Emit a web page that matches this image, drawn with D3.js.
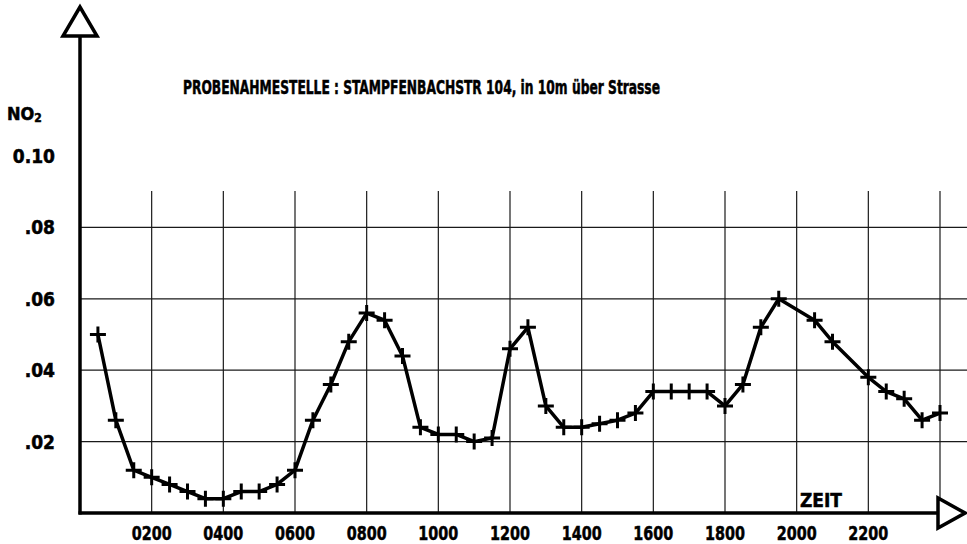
<!DOCTYPE html>
<html>
<head>
<meta charset="utf-8">
<script src="https://cdn.jsdelivr.net/npm/d3@7"></script>
<style>
  html, body { margin: 0; padding: 0; background: #fff; }
  svg { display: block; }
  text { font-family: "DejaVu Sans Condensed", "DejaVu Sans", sans-serif; font-weight: bold; fill: #000; stroke: #000; stroke-width: 0.5; }
</style>
</head>
<body>
<svg id="chart" width="967" height="544"></svg>
<script>
// ---- data ----
const hours = [0.5, 1, 1.5, 2, 2.5, 3, 3.5, 4, 4.5, 5, 5.5, 6, 6.5, 7, 7.5, 8, 8.5, 9, 9.5, 10,
  10.5, 11, 11.5, 12, 12.5, 13, 13.5, 14, 14.5, 15, 15.5, 16, 16.5, 17, 17.5, 18, 18.5, 19, 19.5,
  20.5, 21, 22, 22.5, 23, 23.5, 24];
const no2 = [0.050, 0.026, 0.012, 0.010, 0.008, 0.006, 0.004, 0.004, 0.006, 0.006, 0.008, 0.012,
  0.026, 0.036, 0.048, 0.056, 0.054, 0.044, 0.024, 0.022, 0.022, 0.020, 0.021, 0.046, 0.052,
  0.030, 0.024, 0.024, 0.025, 0.026, 0.028, 0.034, 0.034, 0.034, 0.034, 0.030, 0.036, 0.052,
  0.060, 0.054, 0.048, 0.038, 0.034, 0.032, 0.026, 0.028];
const xGridHours = [2, 4, 6, 8, 10, 12, 14, 16, 18, 20, 22, 24];
const xTickHours = [2, 4, 6, 8, 10, 12, 14, 16, 18, 20, 22];
const xTickLabels = ["0200", "0400", "0600", "0800", "1000", "1200", "1400", "1600", "1800", "2000", "2200"];
const yGridValues = [0.02, 0.04, 0.06, 0.08];
const yTickValues = [0.02, 0.04, 0.06, 0.08, 0.10];
const yTickLabels = [".02", ".04", ".06", ".08", "0.10"];
const titleText = "PROBENAHMESTELLE : STAMPFENBACHSTR 104, in 10m über Strasse";
const yAxisTitle = "NO";
const yAxisTitleSub = "2";
const xAxisTitle = "ZEIT";

// ---- layout ----
const svg = d3.select("#chart");
const x = d3.scaleLinear().domain([0, 24]).range([80, 940]);
const y = d3.scaleLinear().domain([0, 0.10]).range([513, 156]);
const gridTop = 191;
const ink = "#000";

// gridlines
svg.append("g").selectAll("line.h").data(yGridValues).join("line")
  .attr("x1", x(0)).attr("x2", 967)
  .attr("y1", d => y(d)).attr("y2", d => y(d))
  .attr("stroke", "#1a1a1a").attr("stroke-width", 1.2);
svg.append("g").selectAll("line.v").data(xGridHours).join("line")
  .attr("x1", d => x(d)).attr("x2", d => x(d))
  .attr("y1", gridTop).attr("y2", y(0))
  .attr("stroke", "#1a1a1a").attr("stroke-width", 1.2);

// axes
svg.append("line").attr("x1", x(0)).attr("x2", x(0)).attr("y1", 36).attr("y2", y(0) + 1.5)
  .attr("stroke", ink).attr("stroke-width", 3.5);
svg.append("line").attr("x1", x(0) - 1.5).attr("x2", 938).attr("y1", y(0)).attr("y2", y(0))
  .attr("stroke", ink).attr("stroke-width", 3.5);
svg.append("path").attr("d", "M80,7 L63,36 L97,36 Z")
  .attr("fill", "#fff").attr("stroke", ink).attr("stroke-width", 3.5).attr("stroke-linejoin", "miter");
svg.append("path").attr("d", "M938,498 L938,528 L965,513 Z")
  .attr("fill", "#fff").attr("stroke", ink).attr("stroke-width", 3.5).attr("stroke-linejoin", "miter");

// tick labels
svg.append("g").selectAll("text").data(xTickHours).join("text")
  .attr("x", d => x(d)).attr("y", 540)
  .attr("text-anchor", "middle")
  .attr("font-size", 20)
  .attr("textLength", 40).attr("lengthAdjust", "spacingAndGlyphs")
  .text((d, i) => xTickLabels[i]);
svg.append("g").selectAll("text").data(yTickValues).join("text")
  .attr("x", 55).attr("y", d => y(d) + 7)
  .attr("text-anchor", "end")
  .attr("font-size", 19)
  .text((d, i) => yTickLabels[i]);

// axis titles
const nt = svg.append("text").attr("x", 7).attr("y", 120).attr("font-size", 18);
nt.append("tspan").text(yAxisTitle);
nt.append("tspan").attr("font-size", 12).attr("dy", 2).text(yAxisTitleSub);
svg.append("text").attr("x", 800).attr("y", 507).attr("font-size", 20)
  .attr("textLength", 42).attr("lengthAdjust", "spacingAndGlyphs").text(xAxisTitle);

// title
svg.append("text").attr("x", 183).attr("y", 94).attr("font-size", 19)
  .attr("textLength", 477).attr("lengthAdjust", "spacingAndGlyphs").text(titleText);

// data line
const pts = hours.map((h, i) => [h, no2[i]]);
svg.append("path").datum(pts)
  .attr("d", d3.line().x(d => x(d[0])).y(d => y(d[1])))
  .attr("fill", "none").attr("stroke", ink).attr("stroke-width", 3.5)
  .attr("stroke-linejoin", "round");

// cross markers
svg.append("g").selectAll("path").data(pts).join("path")
  .attr("transform", d => `translate(${x(d[0])},${y(d[1])})`)
  .attr("d", "M-8,0 H8 M0,-8 V8")
  .attr("stroke", ink).attr("stroke-width", 3).attr("fill", "none");
</script>
</body>
</html>
